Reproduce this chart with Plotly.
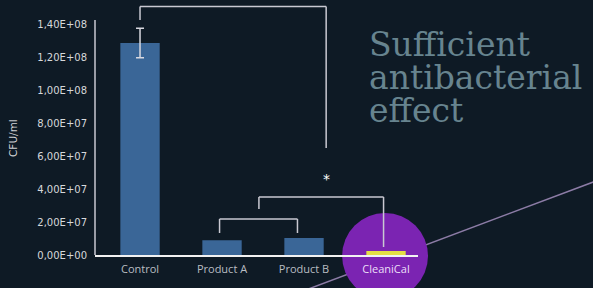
import plotly.graph_objects as go

categories = ["Control", "Product A", "Product B", "CleaniCal"]
cfu_values = [1.29e8, 9.0e6, 1.03e7, 2.5e6]
control_error = 0.09e8
bar_colors = ["#3a6697", "#3a6697", "#3a6697", "#e4df45"]
ytick_vals = [0, 2e7, 4e7, 6e7, 8e7, 1e8, 1.2e8, 1.4e8]
ytick_text = ["0,00E+00", "2,00E+07", "4,00E+07", "6,00E+07", "8,00E+07",
              "1,00E+08", "1,20E+08", "1,40E+08"]
xtick_text = ["Control", "Product A", "Product B",
              "<span style='color:#ecdff8'>CleaniCal</span>"]
y_title = "CFU/ml"

BG = "#0e1a25"
LINE = "#c9c9d2"

xs = list(range(len(categories)))
fig = go.Figure()
fig.add_trace(go.Bar(
    x=xs, y=cfu_values,
    marker=dict(color=bar_colors, line=dict(width=0)),
    width=0.48,
))
# error bar for Control only
fig.add_trace(go.Scatter(
    x=[xs[0]], y=[cfu_values[0]], mode="markers",
    marker=dict(size=1, color="rgba(0,0,0,0)"),
    error_y=dict(type="data", array=[control_error], color="#d8d8e0",
                 thickness=1.5, width=4, visible=True),
    hoverinfo="skip",
))

shapes = []
# decorative diagonal line and purple circle (paper coordinates)
shapes.append(dict(type="line", xref="paper", yref="paper",
                   x0=0.57, y0=-0.18, x1=1.58, y1=0.31,
                   line=dict(color="#8c7ca6", width=1.5), layer="below"))
shapes.append(dict(type="circle", xref="paper", yref="paper",
                   x0=0.765, x1=1.031, y0=-0.176, y1=0.168,
                   fillcolor="#7b24b2", line=dict(width=0), layer="below"))
# y axis line
shapes.append(dict(type="line", xref="paper", yref="paper",
                   x0=0, x1=0, y0=0, y1=0.94,
                   line=dict(color=LINE, width=1.5)))

# significance brackets (data coords)
def bracket(xa, xb, ytop, ya, yb):
    return [
        dict(type="line", xref="x", yref="y", x0=xa, x1=xa, y0=ya, y1=ytop,
             line=dict(color=LINE, width=1.5)),
        dict(type="line", xref="x", yref="y", x0=xa, x1=xb, y0=ytop, y1=ytop,
             line=dict(color=LINE, width=1.5)),
        dict(type="line", xref="x", yref="y", x0=xb, x1=xb, y0=yb, y1=ytop,
             line=dict(color=LINE, width=1.5)),
    ]

shapes += bracket(0, 2.27, 1.5125e8, 1.43e8, 0.651e8)
shapes += bracket(1.45, 2.97, 0.353e8, 0.28e8, 0.0487e8)
shapes += bracket(0.97, 1.92, 0.219e8, 0.134e8, 0.134e8)

annotations = [
    dict(text="*", x=2.27, y=0.46e8, xref="x", yref="y", showarrow=False,
         font=dict(color="#ffffff", size=14, family="DejaVu Sans")),
    dict(text=y_title, x=-0.254, y=0.468, xref="paper", yref="paper",
         textangle=-90, showarrow=False, xanchor="center", yanchor="middle",
         font=dict(size=10.5, color="#d0d2d6", family="DejaVu Sans")),
]
title_lines = ["Sufficient", "antibacterial", "effect"]
title_y = [0.842, 0.71, 0.58]
for t, yy in zip(title_lines, title_y):
    annotations.append(dict(text=t, x=(367 - 95) / 323, y=yy, xref="paper",
                            yref="paper", xanchor="left", yanchor="middle",
                            showarrow=False,
                            font=dict(family="DejaVu Serif", size=33,
                                      color="#67848f")))

fig.update_layout(
    width=593, height=288,
    margin=dict(l=95, r=175, t=5, b=33),
    paper_bgcolor=BG, plot_bgcolor="rgba(0,0,0,0)",
    showlegend=False,
    shapes=shapes,
    annotations=annotations,
    font=dict(family="Open Sans", color="#d0d2d6", size=10),
    xaxis=dict(range=[-0.549, 3.39], tickmode="array", automargin=False,
               tickvals=xs, ticktext=xtick_text, ticklabelstandoff=3,
               showgrid=False, zeroline=False, showline=True,
               linecolor="#f2f2f2", linewidth=1.5, ticks="",
               tickfont=dict(color="#b9bdc2", size=11, family="Open Sans")),
    yaxis=dict(range=[0, 1.5216e8], tickmode="array", tickvals=ytick_vals,
               ticktext=ytick_text, showgrid=False, zeroline=False,
               automargin=False,
               showline=False, ticks="", ticklabelstandoff=7,
               tickfont=dict(color="#d6d8db", size=10, family="DejaVu Sans")),
)

fig.write_html(
    "out.html",
    config={"displayModeBar": False},
    post_script="document.body.style.margin='0';document.body.style.background='%s';" % BG,
)
